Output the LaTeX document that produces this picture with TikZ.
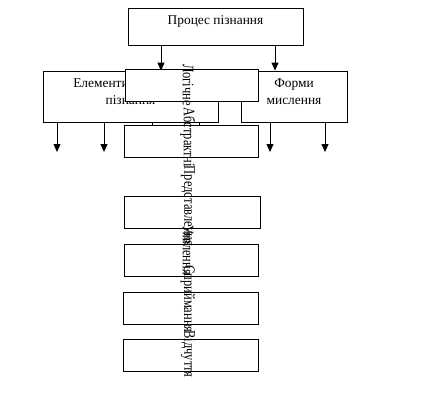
\documentclass[tikz,border=0pt]{standalone}
\usepackage{fontspec}
\setmainfont{Liberation Serif}
\usetikzlibrary{arrows.meta}

\tikzset{
  box/.style={draw, line width=0.8pt, minimum height=32pt, inner sep=0pt},
  txt/.style={font=\fontsize{13.4}{17}\selectfont, align=center, inner sep=0pt},
  vtxt/.style={font=\fontsize{16}{17}\selectfont, rotate=-90, xscale=0.78, inner sep=0pt},
  arr/.style={-{Triangle[width=7pt,length=8pt]}, line width=0.8pt},
}

\begin{document}
\begin{tikzpicture}[x=1pt,y=-1pt]
    \useasboundingbox (0,0) rectangle (446,404);

    \node[box, minimum width=175pt, minimum height=37pt] (proc) at (215.5,26.5) {};
    \node[txt] (proctxt) at (215.5,21) {Процес пізнання};

    \node[box, minimum width=175pt, minimum height=51pt] (elem) at (130.5,96.5) {};
    \node[txt] (elemtxt) at (130.5,92) {Елементи чуттєвого\\пізнання};
    \node[box, minimum width=106pt, minimum height=51pt] (form) at (294,96.5) {};
    \node[txt] (formtxt) at (294,92) {Форми\\мислення};

    \coordinate (u1) at (161,0);
    \coordinate (u2) at (275,0);
    \draw[arr] (u1 |- proc.south) -- (u1 |- elem.north); % Process -> elements
    \draw[arr] (u2 |- proc.south) -- (u2 |- form.north); % Process -> forms

    \coordinate (d1) at (57,152);
    \coordinate (d2) at (104,152);
    \coordinate (d3) at (270,152);
    \coordinate (d4) at (325,152);
    \draw[arr] (d1 |- elem.south) -- (d1);
    \draw[arr] (d2 |- elem.south) -- (d2);
    \draw[arr] (d3 |- form.south) -- (d3);
    \draw[arr] (d4 |- form.south) -- (d4);

    % middle column
    \node[box, fill=white, minimum width=133pt] (logic) at (191.5,85) {};
    \node[box, minimum width=134pt] (abstr) at (191,141) {};
    \node[box, minimum width=136pt] (repr) at (192,212) {};
    \node[box, minimum width=134pt] (imag) at (191,260) {};
    \node[box, minimum width=135pt] (perc) at (190.5,308) {};
    \node[box, minimum width=135pt] (sens) at (190.5,355) {};

    \coordinate (k1) at (152,0);
    \coordinate (k2) at (199,0);
    \draw[line width=0.8pt] (k1 |- elem.south) -- (k1 |- abstr.north);
    \draw[line width=0.8pt] (k2 |- elem.south) -- (k2 |- abstr.north);

    \node[vtxt] (logictxt) at (188,85) {Логічне};
    \node[vtxt] (abstrtxt) at (188,137.5) {Абстрактні};
    \node[vtxt] (reprtxt) at (188,206) {Представлення};
    \node[vtxt] (imagtxt) at (188,250) {Уявлення};
    \node[vtxt] (perctxt) at (188,299) {Сприймання};
    \node[vtxt] (senstxt) at (188,354) {Відчуття};
\end{tikzpicture}
\end{document}
